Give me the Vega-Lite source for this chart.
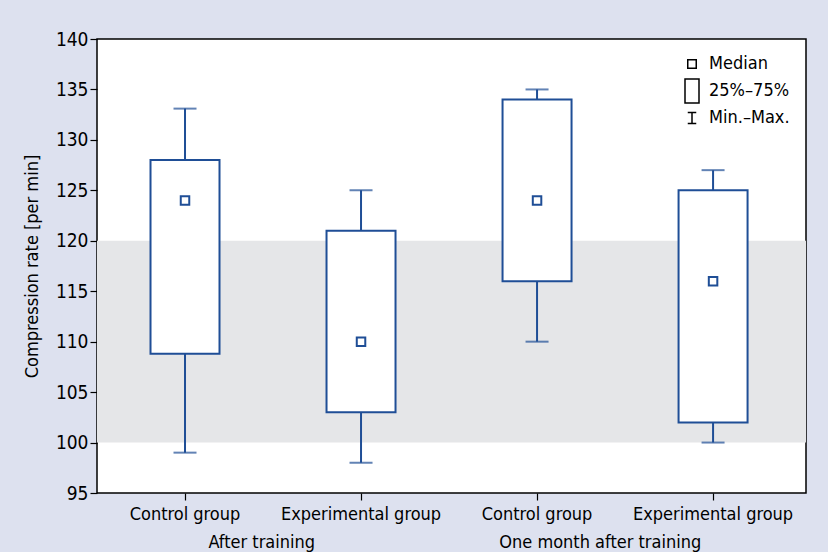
{
  "$schema": "https://vega.github.io/schema/vega-lite/v6.json",
  "width": 709,
  "height": 454,
  "autosize": "none",
  "padding": {"left": 97, "top": 39, "right": 22, "bottom": 59},
  "background": "#dde1ef",
  "config": {
    "font": "DejaVu Sans Condensed, Roboto, sans-serif",
    "view": {"fill": "white", "stroke": "black", "strokeWidth": 1.5},
    "axis": {
      "labelFont": "DejaVu Sans Condensed, Roboto, sans-serif",
      "titleFont": "DejaVu Sans Condensed, Roboto, sans-serif",
      "labelColor": "black",
      "titleColor": "black",
      "tickColor": "black",
      "domainColor": "black",
      "grid": false
    },
    "legend": {"labelFont": "DejaVu Sans Condensed, Roboto, sans-serif", "labelColor": "black"}
  },
  "datasets": {
    "boxes": [
      {"key": "c1", "min": 99, "q1": 108.8, "median": 124, "q3": 128, "max": 133.1},
      {"key": "e1", "min": 98, "q1": 103, "median": 110, "q3": 121, "max": 125},
      {"key": "c2", "min": 110, "q1": 116, "median": 124, "q3": 134, "max": 135},
      {"key": "e2", "min": 100, "q1": 102, "median": 116, "q3": 125, "max": 127}
    ],
    "band": [{"lo": 100, "hi": 120}],
    "periods": [{"period": "After training"}, {"period": "One month after training"}]
  },
  "resolve": {"scale": {"x": "independent"}, "axis": {"x": "independent"}},
  "layer": [
    {
      "data": {"name": "boxes"},
      "encoding": {
        "x": {
          "field": "key",
          "type": "nominal",
          "sort": ["c1", "e1", "c2", "e2"],
          "scale": {"paddingInner": 0, "paddingOuter": 0.014, "align": 0},
          "axis": {
            "title": null,
            "orient": "bottom",
            "labelAngle": 0,
            "labelFontSize": 18,
            "labelPadding": 5,
            "tickSize": 7,
            "tickWidth": 1.2,
            "domain": false,
            "labelExpr": "datum.value == 'c1' || datum.value == 'c2' ? 'Control group' : 'Experimental group'"
          }
        }
      },
      "layer": [
        {
          "data": {"name": "band"},
          "mark": {"type": "rect", "color": "#e5e6e8"},
          "encoding": {
            "x": null,
            "y": {
              "field": "lo",
              "type": "quantitative",
              "title": "Compression rate [per min]",
              "scale": {"domain": [95, 140], "nice": false, "zero": false},
              "axis": {
                "values": [95, 100, 105, 110, 115, 120, 125, 130, 135, 140],
                "labelFontSize": 19,
                "titleFontSize": 18,
                "titleFontWeight": "normal",
                "titlePadding": 14,
                "tickSize": 7,
                "tickWidth": 1.2,
                "labelPadding": 2,
                "domain": false
              }
            },
            "y2": {"field": "hi"}
          }
        },
        {
          "mark": {"type": "rule", "color": "#1f4e96", "strokeWidth": 2},
          "encoding": {
            "y": {"field": "min", "type": "quantitative", "title": "Compression rate [per min]"},
            "y2": {"field": "max"}
          }
        },
        {
          "mark": {"type": "tick", "color": "#1f4e96", "size": 23, "thickness": 2},
          "encoding": {
            "y": {"field": "min", "type": "quantitative", "title": "Compression rate [per min]"}
          }
        },
        {
          "mark": {"type": "tick", "color": "#1f4e96", "size": 23, "thickness": 2},
          "encoding": {
            "y": {"field": "max", "type": "quantitative", "title": "Compression rate [per min]"}
          }
        },
        {
          "mark": {"type": "bar", "fill": "white", "stroke": "#1f4e96", "strokeWidth": 2, "size": 69},
          "encoding": {
            "y": {"field": "q1", "type": "quantitative", "title": "Compression rate [per min]"},
            "y2": {"field": "q3"}
          }
        },
        {
          "mark": {"type": "point", "filled": false, "color": "#1f4e96", "strokeWidth": 2, "size": 100, "opacity": 1},
          "encoding": {
            "y": {"field": "median", "type": "quantitative", "title": "Compression rate [per min]"},
            "shape": {
              "datum": "Median",
              "scale": {
                "domain": ["Median", "25%–75%", "Min.–Max."],
                "range": [
                  "M-0.85,-0.85H0.85V0.85H-0.85Z",
                  "M-1.4,-2.4H1.4V2.4H-1.4Z",
                  "M-0.85,-1.1H0.85M0,-1.1V1.1M-0.85,1.1H0.85"
                ]
              },
              "legend": {
                "title": null,
                "orient": "top-right",
                "offset": 16,
                "labelFontSize": 18,
                "symbolSize": 100,
                "symbolStrokeWidth": 1.5,
                "symbolStrokeColor": "black",
                "symbolFillColor": "transparent",
                "rowPadding": 3,
                "labelOffset": 8
              }
            }
          }
        }
      ]
    },
    {
      "data": {"name": "periods"},
      "mark": {"type": "point", "opacity": 0},
      "encoding": {
        "x": {
          "field": "period",
          "type": "nominal",
          "scale": {"paddingInner": 0, "paddingOuter": 0},
          "axis": {
            "title": null,
            "orient": "bottom",
            "labelAngle": 0,
            "labelFontSize": 18,
            "labelPadding": 40,
            "labelLimit": 0,
            "ticks": false,
            "domain": false,
            "labelOffset": {"condition": {"test": "datum.value == 'After training'", "value": -13}, "value": -29}
          }
        }
      }
    }
  ]
}
